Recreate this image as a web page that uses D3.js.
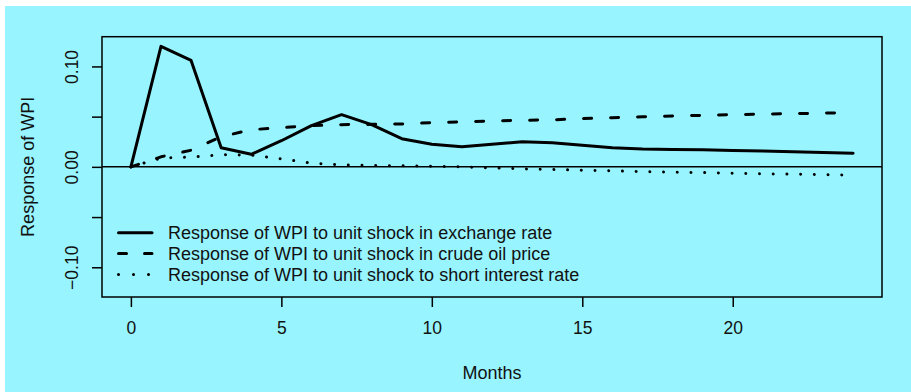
<!DOCTYPE html>
<html>
<head>
<meta charset="utf-8">
<script src="https://cdn.jsdelivr.net/npm/d3@7"></script>
<style>
  html, body { margin: 0; padding: 0; background: #ffffff; }
  svg { display: block; font-family: "Liberation Sans", Arial, sans-serif; }
</style>
</head>
<body>
<svg id="chart" width="911" height="392"></svg>
<script>
// Impulse responses of WPI over 24 months
const months = d3.range(0, 25);
const exchangeRate = [0, 0.120, 0.106, 0.019, 0.0125, 0.026, 0.041, 0.052, 0.042, 0.028,
  0.0225, 0.020, 0.0225, 0.025, 0.024, 0.0215, 0.019, 0.0178, 0.0174, 0.017,
  0.0163, 0.0157, 0.015, 0.0143, 0.0135];
const crudeOil = [0, 0.010, 0.0165, 0.030, 0.037, 0.039, 0.041, 0.042, 0.0423, 0.0427,
  0.044, 0.0447, 0.0457, 0.0463, 0.0468, 0.048, 0.049, 0.0499, 0.0507, 0.0513,
  0.052, 0.0525, 0.053, 0.0535, 0.054];
const interestRate = [0, 0.0087, 0.0097, 0.012, 0.0117, 0.008, 0.0037, 0.002, 0.0013, 0.001,
  0.0007, 0, -0.001, -0.002, -0.0027, -0.0033, -0.004, -0.0047, -0.0053, -0.0057,
  -0.0063, -0.007, -0.0073, -0.0077, -0.0083];

const seriesNames = [
  "Response of WPI to unit shock in exchange rate",
  "Response of WPI to unit shock in crude oil price",
  "Response of WPI to unit shock to short interest rate"
];
const xTicks = [0, 5, 10, 15, 20];
const yTicks = [-0.10, -0.05, 0, 0.05, 0.10];
const yTickLabels = ["\u22120.10", "", "0.00", "", "0.10"];

const W = 911, H = 392;
const plot = { left: 102, right: 882, top: 36.7, bottom: 297 };

const svg = d3.select("#chart");
svg.append("rect").attr("x", 5).attr("y", 6).attr("width", W - 5).attr("height", H - 6)
  .attr("fill", "#98F5FF");

const x = d3.scaleLinear().domain([-0.96, 24.96]).range([plot.left, plot.right]);
const y = d3.scaleLinear().domain([-0.1296, 0.1296]).range([plot.bottom, plot.top]);

// axes
const xAxis = svg.append("g").attr("transform", `translate(0,${plot.bottom})`)
  .call(d3.axisBottom(x).tickValues(xTicks).tickSize(10).tickPadding(15).tickSizeOuter(0));
const yAxis = svg.append("g").attr("transform", `translate(${plot.left},0)`)
  .call(d3.axisLeft(y).tickValues(yTicks).tickSize(10).tickSizeOuter(0)
    .tickFormat((d, i) => yTickLabels[i]));
[xAxis, yAxis].forEach(g => {
  g.select(".domain").remove();
  g.selectAll(".tick line").attr("stroke", "#000").attr("stroke-width", 1.5);
  g.selectAll(".tick text").attr("fill", "#111").attr("font-size", 17.5)
    .attr("font-family", "Liberation Sans, Arial, sans-serif");
});
yAxis.selectAll(".tick text")
  .attr("x", null).attr("dy", null)
  .attr("text-anchor", "middle")
  .attr("transform", "translate(-30,0) rotate(-90)")
  .attr("dy", "0.35em");

// zero reference line
svg.append("line")
  .attr("x1", plot.left).attr("x2", plot.right)
  .attr("y1", y(0)).attr("y2", y(0))
  .attr("stroke", "#000").attr("stroke-width", 1.5);

// series
const line = d3.line().x((d, i) => x(months[i])).y(d => y(d));
const styles = [
  { data: exchangeRate, dash: null },
  { data: crudeOil, dash: "8 19" },
  { data: interestRate, dash: "0.01 13.7" }
];
styles.forEach(s => {
  svg.append("path").datum(s.data)
    .attr("d", line)
    .attr("fill", "none")
    .attr("stroke", "#000")
    .attr("stroke-width", 3)
    .attr("stroke-linecap", "round")
    .attr("stroke-linejoin", "round")
    .attr("stroke-dasharray", s.dash);
});

// frame
svg.append("rect")
  .attr("x", plot.left).attr("y", plot.top)
  .attr("width", plot.right - plot.left).attr("height", plot.bottom - plot.top)
  .attr("fill", "none").attr("stroke", "#000").attr("stroke-width", 1.5);

// legend
const legendRows = [232.7, 253.5, 274.5];
const legendDash = [null, "8 18", "0.01 15"];
seriesNames.forEach((name, i) => {
  svg.append("line")
    .attr("x1", 118.5).attr("x2", 152)
    .attr("y1", legendRows[i]).attr("y2", legendRows[i])
    .attr("stroke", "#000").attr("stroke-width", 3)
    .attr("stroke-linecap", "round")
    .attr("stroke-dasharray", legendDash[i]);
  svg.append("text")
    .attr("x", 168).attr("y", legendRows[i]).attr("dy", "0.35em")
    .attr("font-size", 18).attr("fill", "#111")
    .text(name);
});

// axis titles
svg.append("text")
  .attr("x", (plot.left + plot.right) / 2).attr("y", 379)
  .attr("text-anchor", "middle").attr("font-size", 18).attr("fill", "#111")
  .text("Months");
svg.append("text")
  .attr("transform", `translate(34,${(plot.top + plot.bottom) / 2}) rotate(-90)`)
  .attr("text-anchor", "middle").attr("font-size", 18).attr("fill", "#111")
  .text("Response of WPI");
</script>
</body>
</html>
